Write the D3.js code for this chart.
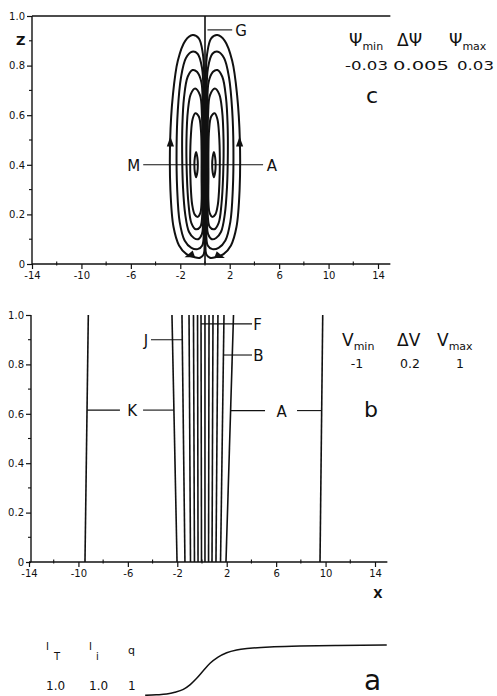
<!DOCTYPE html>
<html><head><meta charset="utf-8">
<script src="https://cdn.jsdelivr.net/npm/d3@7"></script>
<style>
body{margin:0;background:#fff}
svg{display:block}
text{font-family:"DejaVu Sans",sans-serif;fill:#111}
</style>
</head><body>
<svg id="chart" width="497" height="696"></svg>
<script>
// ---------------- DATA ----------------
const xTicksMajor = [-14,-10,-6,-2,2,6,10,14];
const xTicksMinor = [-12,-8,-4,0,4,8,12];
const zTicksMajor = [0,0.2,0.4,0.6,0.8,1.0];
const zTicksMinor = [0.1,0.3,0.5,0.7,0.9];
const xAxisEnd = 15;

// Panel c: stream function contours (right cell; left cell is its mirror, psi<0)
const psiLevels = [0.005,0.01,0.015,0.02,0.025,0.03];
const psiLoop1 = [[0.04,0.10],[0.04,0.3],[0.04,0.55],[0.06,0.74],[0.18,0.85],[0.5,0.91],[1.0,0.923],[1.6,0.9],[2.2,0.82],[2.6,0.68],[2.82,0.5],[2.8,0.3],[2.55,0.15],[2.1,0.075],[1.5,0.04],[0.9,0.028],[0.4,0.025],[0.1,0.04]];
const psiLoop2 = [[0.1,0.12],[0.1,0.3],[0.1,0.5],[0.12,0.68],[0.24,0.79],[0.6,0.848],[1.05,0.856],[1.55,0.83],[1.95,0.75],[2.2,0.62],[2.3,0.47],[2.25,0.3],[2.05,0.17],[1.65,0.095],[1.1,0.065],[0.6,0.06],[0.22,0.075]];
const psiLoop3 = [[0.16,0.16],[0.16,0.3],[0.16,0.5],[0.18,0.64],[0.3,0.735],[0.65,0.775],[1.0,0.782],[1.4,0.755],[1.7,0.67],[1.83,0.56],[1.85,0.45],[1.78,0.31],[1.6,0.2],[1.3,0.13],[0.9,0.105],[0.55,0.1],[0.25,0.12]];
const psiLoop4 = [[0.22,0.2],[0.22,0.34],[0.22,0.5],[0.25,0.6],[0.4,0.68],[0.8,0.708],[1.15,0.685],[1.38,0.62],[1.5,0.5],[1.47,0.36],[1.33,0.24],[1.1,0.165],[0.75,0.14],[0.38,0.15]];
const psiLoop5 = [[0.28,0.25],[0.28,0.35],[0.28,0.46],[0.33,0.54],[0.5,0.595],[0.78,0.608],[1.0,0.585],[1.14,0.52],[1.2,0.42],[1.16,0.32],[1.04,0.24],[0.84,0.2],[0.6,0.19],[0.38,0.205]];
const psiLoop6 = [[0.72,0.452],[0.82,0.43],[0.86,0.4],[0.82,0.37],[0.72,0.35],[0.62,0.37],[0.58,0.4],[0.62,0.43]];
const psiLoops = [psiLoop1,psiLoop2,psiLoop3,psiLoop4,psiLoop5,psiLoop6];
// arrows: x, z, direction angle (deg)
const psiArrowX = [2.8,-2.8,1.15,-1.2];
const psiArrowZ = [0.49,0.49,0.032,0.035];
const psiArrowAngle = [-90,-90,20,160];

// Panel b: V contours, x at z=0 and z=1
const vLineBottom = [-9.47,-2.02,-1.38,-0.93,-0.61,-0.32,-0.04,0.24,0.53,0.81,1.13,1.5,1.94,9.55];
const vLineTop    = [-9.2,-2.43,-1.62,-1.05,-0.69,-0.36,-0.08,0.24,0.57,0.89,1.29,1.78,2.55,9.77];

// Panel a: I profile
const profX = [-4.6,-3.7,-2.86,-2.2,-1.51,-0.95,-0.43,0.1,0.65,1.3,2.0,2.8,3.88,5.5,7.93,11,14.95];
const profI = [0.085,0.095,0.109,0.14,0.194,0.28,0.394,0.53,0.667,0.78,0.86,0.91,0.94,0.965,0.98,0.993,1.0];

// ---------------- DRAW ----------------
const svg = d3.select("#chart");
const ink = "#111";

const xTop = d3.scaleLinear([-14,14],[32,378]);
const zTop = d3.scaleLinear([0,1],[264,16]);
const xMid = d3.scaleLinear([-14,14],[29,375]);
const zMid = d3.scaleLinear([0,1],[562,315]);
const iBot = d3.scaleLinear([0,1],[700,645]);

function fmtZ(d){ return d===0 ? "0" : d.toFixed(1); }

function drawAxes(x, z, yAxisX){
  const g = svg.append("g");
  const ax = g.append("g").attr("transform",`translate(0,${z(0)})`)
    .call(d3.axisBottom(x).tickValues(xTicksMajor).tickSize(5).tickSizeOuter(0).tickPadding(3).tickFormat(d=>String(d)));
  ax.select(".domain").remove();
  ax.selectAll("text").attr("font-size",10).attr("font-family","DejaVu Sans").attr("fill",ink);
  ax.selectAll("line").attr("stroke",ink).attr("stroke-width",1.2);
  g.selectAll(".xminor").data(xTicksMinor).join("line")
    .attr("x1",d=>x(d)).attr("x2",d=>x(d)).attr("y1",z(0)-2.5).attr("y2",z(0)+1.5)
    .attr("stroke",ink).attr("stroke-width",1.1);
  g.append("line").attr("x1",x(-14)).attr("x2",x(xAxisEnd)).attr("y1",z(0)).attr("y2",z(0))
    .attr("stroke",ink).attr("stroke-width",1.5);
  const ay = g.append("g").attr("transform",`translate(${yAxisX},0)`)
    .call(d3.axisLeft(z).tickValues(zTicksMajor).tickSize(5).tickSizeOuter(0).tickPadding(2).tickFormat(fmtZ));
  ay.select(".domain").remove();
  ay.selectAll("text").attr("font-size",10).attr("font-family","DejaVu Sans").attr("fill",ink);
  ay.selectAll("line").attr("stroke",ink).attr("stroke-width",1.2);
  g.selectAll(".yminor").data(zTicksMinor).join("line")
    .attr("x1",yAxisX-3).attr("x2",yAxisX).attr("y1",d=>z(d)).attr("y2",d=>z(d))
    .attr("stroke",ink).attr("stroke-width",1.1);
  g.append("line").attr("x1",yAxisX).attr("x2",yAxisX).attr("y1",z(0)).attr("y2",z(1))
    .attr("stroke",ink).attr("stroke-width",1.4);
  return g;
}

// ===== Panel c =====
drawAxes(xTop, zTop, 32);
svg.append("line").attr("x1",xTop(-14)).attr("x2",xTop(xAxisEnd)).attr("y1",zTop(1)).attr("y2",zTop(1))
  .attr("stroke",ink).attr("stroke-width",1.6);
svg.append("text").attr("x",16).attr("y",45).attr("font-size",13).attr("font-weight","bold").text("Z");

const loopLine = d3.line().x(d=>xTop(d[0])).y(d=>zTop(d[1])).curve(d3.curveCatmullRomClosed.alpha(0.5));
const gc = svg.append("g");
psiLoops.forEach((loop,i)=>{
  [1,-1].forEach(s=>{
    gc.append("path").attr("d",loopLine(loop.map(p=>[s*p[0],p[1]])))
      .attr("fill","none").attr("stroke",ink).attr("stroke-width",2)
      .attr("data-psi", s*psiLevels[i]);
  });
});
gc.append("line").attr("x1",xTop(0)).attr("x2",xTop(0)).attr("y1",zTop(0)).attr("y2",zTop(1))
  .attr("stroke",ink).attr("stroke-width",1.6);
psiArrowX.forEach((xv,i)=>{
  gc.append("path").attr("d","M6,0 L-4,-3.6 L-4,3.6 Z").attr("fill",ink)
    .attr("transform",`translate(${xTop(xv)},${zTop(psiArrowZ[i])}) rotate(${psiArrowAngle[i]})`);
});
const lab = (x,y,t,anchor,size)=>svg.append("text").attr("x",x).attr("y",y).attr("font-size",size||15)
  .attr("text-anchor",anchor||"start").text(t);
const seg = (x1,y1,x2,y2)=>svg.append("line").attr("x1",x1).attr("x2",x2).attr("y1",y1).attr("y2",y2)
  .attr("stroke",ink).attr("stroke-width",1.1);
seg(xTop(0.2),zTop(0.944),xTop(2.2),zTop(0.944)); lab(xTop(2.45),36,"G");
seg(xTop(-5.0),zTop(0.4),xTop(-0.6),zTop(0.4)); lab(xTop(-5.25),171,"M","end");
seg(xTop(0.6),zTop(0.4),xTop(4.7),zTop(0.4)); lab(xTop(5.0),171,"A");

function header(x,y,sym,sub,size){
  const t = svg.append("text").attr("x",x).attr("y",y).attr("font-size",size);
  t.append("tspan").text(sym);
  if(sub) t.append("tspan").attr("font-size",11).attr("dy",4).text(sub);
  return t;
}
function wide(x,y,w,t){
  svg.append("text").attr("x",x).attr("y",y).attr("font-size",12.5)
    .attr("textLength",w).attr("lengthAdjust","spacingAndGlyphs").text(t);
}
header(349,46,"Ψ","min",17);
header(397,46,"ΔΨ","",17);
header(449,46,"Ψ","max",17);
wide(345,70,43,"-0.03");
wide(393,70,56,"0.005");
wide(457,70,37,"0.03");
lab(366,103,"c","start",22);

// ===== Panel b =====
drawAxes(xMid, zMid, 31);
svg.append("text").attr("x",378).attr("y",598).attr("font-size",12).attr("font-weight","bold").attr("text-anchor","middle").text("X");
const gb = svg.append("g");
vLineBottom.forEach((xb,i)=>{
  gb.append("line").attr("x1",xMid(xb)).attr("y1",zMid(0)).attr("x2",xMid(vLineTop[i])).attr("y2",zMid(1))
    .attr("stroke",ink).attr("stroke-width",1.6);
});
const vAt = (i,z)=> vLineBottom[i] + (vLineTop[i]-vLineBottom[i])*z;
seg(xMid(-4.13),zMid(0.9),xMid(vAt(2,0.9)),zMid(0.9)); lab(xMid(-4.35),346,"J","end");
seg(xMid(vAt(0,0.615)),zMid(0.615),xMid(-6.64),zMid(0.615)); lab(xMid(-5.66),416,"K","middle");
seg(xMid(-4.77),zMid(0.615),xMid(vAt(1,0.615)),zMid(0.615));
seg(xMid(vAt(6,0.964)),zMid(0.964),xMid(4.05),zMid(0.964)); lab(xMid(4.15),330,"F");
seg(xMid(vAt(11,0.838)),zMid(0.838),xMid(4.05),zMid(0.838)); lab(xMid(4.15),361,"B");
seg(xMid(vAt(12,0.613)),zMid(0.613),xMid(5.1),zMid(0.613)); lab(xMid(6.45),417,"A","middle");
seg(xMid(7.69),zMid(0.613),xMid(vAt(13,0.613)),zMid(0.613));

header(342,346,"V","min",17);
header(397,346,"ΔV","",17);
header(437,346,"V","max",17);
svg.append("text").attr("x",357).attr("y",368).attr("font-size",12.5).attr("text-anchor","middle").text("-1");
svg.append("text").attr("x",410).attr("y",368).attr("font-size",12.5).attr("text-anchor","middle").text("0.2");
svg.append("text").attr("x",460).attr("y",368).attr("font-size",12.5).attr("text-anchor","middle").text("1");
lab(364,417,"b","start",22);

// ===== Panel a =====
const prof = d3.line().x((d,i)=>xMid(profX[i])).y(d=>iBot(d)).curve(d3.curveMonotoneX);
svg.append("path").attr("d",prof(profI)).attr("fill","none").attr("stroke",ink).attr("stroke-width",1.5);
svg.append("text").attr("x",46).attr("y",650).attr("font-size",10).text("I");
svg.append("text").attr("x",54).attr("y",660).attr("font-size",10).text("T");
svg.append("text").attr("x",89).attr("y",650).attr("font-size",10).text("I");
svg.append("text").attr("x",96).attr("y",660).attr("font-size",10).text("i");
svg.append("text").attr("x",128).attr("y",654).attr("font-size",11).text("q");
svg.append("text").attr("x",46).attr("y",690).attr("font-size",12).text("1.0");
svg.append("text").attr("x",89).attr("y",690).attr("font-size",12).text("1.0");
svg.append("text").attr("x",128).attr("y",690).attr("font-size",12).text("1");
lab(364,690,"a","start",28);
</script>
</body></html>
